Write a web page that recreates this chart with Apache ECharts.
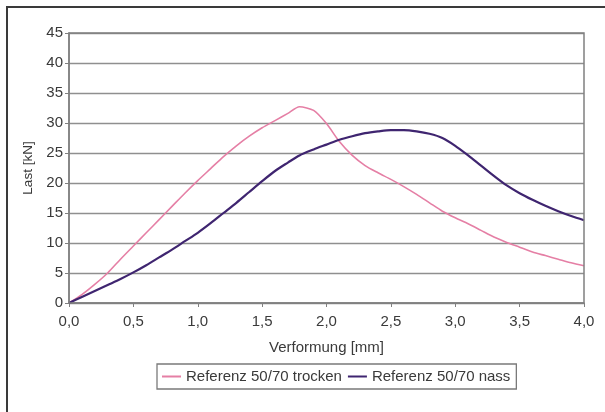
<!DOCTYPE html>
<html>
<head>
<meta charset="utf-8">
<script src="https://cdn.jsdelivr.net/npm/echarts@6/dist/echarts.min.js"></script>
<style>
  html, body { margin: 0; padding: 0; background: #ffffff; }
  #chart { width: 605px; height: 412px; }
</style>
</head>
<body>
<div id="chart"></div>
<script>
// Deformation [mm] sampling points
const verformung = [0.0, 0.1, 0.2, 0.3, 0.4, 0.5, 0.6, 0.7, 0.8, 0.9,
  1.0, 1.1, 1.2, 1.3, 1.4, 1.5, 1.6, 1.7, 1.79, 1.9,
  2.0, 2.1, 2.2, 2.3, 2.4, 2.5, 2.6, 2.7, 2.8, 2.9,
  3.0, 3.1, 3.2, 3.3, 3.4, 3.5, 3.6, 3.7, 3.8, 3.9, 4.0];

// Load [kN], dry specimen
const lastTrocken = [0, 1.4, 3.1, 5.0, 7.3, 9.5, 11.7, 13.9, 16.1, 18.3,
  20.4, 22.4, 24.4, 26.2, 27.8, 29.2, 30.4, 31.6, 32.7, 32.1,
  29.9, 26.9, 24.6, 22.9, 21.7, 20.6, 19.4, 18.1, 16.7, 15.3,
  14.2, 13.2, 12.1, 11.0, 10.1, 9.3, 8.5, 7.9, 7.3, 6.7, 6.2];

// Load [kN], wet specimen
const lastNass = [0, 1.0, 2.0, 3.0, 4.0, 5.1, 6.3, 7.6, 8.9, 10.3,
  11.7, 13.3, 15.0, 16.7, 18.5, 20.3, 22.0, 23.4, 24.6, 25.6,
  26.4, 27.2, 27.8, 28.3, 28.6, 28.8, 28.8, 28.6, 28.2, 27.5,
  26.2, 24.6, 22.9, 21.2, 19.6, 18.3, 17.2, 16.2, 15.3, 14.5, 13.8];

const seriesNames = ['Referenz 50/70 trocken', 'Referenz 50/70 nass'];
const xName = 'Verformung [mm]';
const yName = 'Last [kN]';

const pairs = (xs, ys) => xs.map((x, i) => [x, ys[i]]);

const chart = echarts.init(document.getElementById('chart'), null, { renderer: 'canvas' });
const font = 'Liberation Sans, Arial, sans-serif';
const textColor = '#3a3a3a';

chart.setOption({
  backgroundColor: '#ffffff',
  animation: false,
  textStyle: { fontFamily: font },
  graphic: [{
    type: 'rect',
    shape: { x: 7, y: 7, width: 640, height: 440 },
    style: { fill: 'none', stroke: '#3a3a3a', lineWidth: 2 },
    silent: true
  }, {
    type: 'rect',
    shape: { x: 69, y: 33, width: 515, height: 270 },
    style: { fill: 'none', stroke: '#808080', lineWidth: 1.5 },
    silent: true,
    z: 5
  }],
  grid: { left: 69, right: 21, top: 33, bottom: 109, containLabel: false },
  legend: {
    data: seriesNames,
    left: 157,
    top: 364,
    orient: 'horizontal',
    icon: 'rect',
    itemWidth: 19,
    itemHeight: 2,
    itemGap: 6,
    padding: [5, 6, 5, 5],
    borderColor: '#7a7a7a',
    borderWidth: 1.3,
    textStyle: { fontFamily: font, fontSize: 15, color: textColor }
  },
  xAxis: {
    type: 'value',
    min: 0, max: 4, interval: 0.5,
    name: xName,
    nameLocation: 'middle',
    nameGap: 37,
    nameTextStyle: { fontFamily: font, fontSize: 15, color: textColor },
    axisLine: { lineStyle: { color: '#808080', width: 1.5 } },
    axisTick: { show: true, length: 4, lineStyle: { color: '#808080' } },
    axisLabel: {
      fontFamily: font, fontSize: 15, color: textColor, margin: 11,
      formatter: v => v.toFixed(1).replace('.', ',')
    },
    splitLine: { show: false }
  },
  yAxis: {
    type: 'value',
    min: 0, max: 45, interval: 5,
    name: yName,
    nameLocation: 'middle',
    nameGap: 29,
    nameRotate: 90,
    nameTextStyle: { fontFamily: font, fontSize: 13.5, color: textColor },
    axisLine: { show: true, lineStyle: { color: '#808080', width: 1.5 } },
    axisTick: { show: true, length: 4, lineStyle: { color: '#808080' } },
    axisLabel: { fontFamily: font, fontSize: 15, color: textColor, margin: 6 },
    splitLine: { show: true, lineStyle: { color: '#8f8f8f', width: 1.3 } }
  },
  series: [{
    name: seriesNames[0],
    type: 'line',
    data: pairs(verformung, lastTrocken),
    smooth: 0.25,
    showSymbol: false,
    color: '#e57fa5',
    lineStyle: { color: '#e57fa5', width: 1.6 },
    z: 3
  }, {
    name: seriesNames[1],
    type: 'line',
    data: pairs(verformung, lastNass),
    smooth: 0.3,
    showSymbol: false,
    color: '#3f2570',
    lineStyle: { color: '#3f2570', width: 2.2 },
    z: 4
  }]
});
</script>
</body>
</html>
